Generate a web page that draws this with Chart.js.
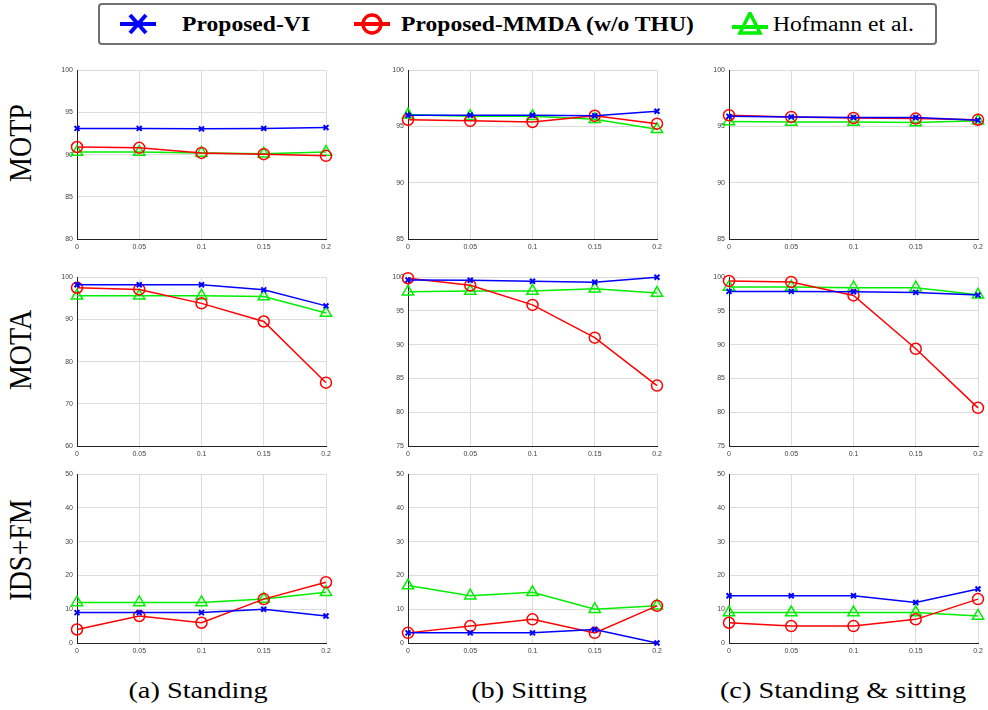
<!DOCTYPE html>
<html>
<head>
<meta charset="utf-8">
<script src="https://cdn.jsdelivr.net/npm/chart.js@4"></script>
<style>
  body { margin: 0; background: #fff; width: 988px; height: 710px; position: relative; overflow: hidden; }
  .cell { position: absolute; }
  .serif { font-family: "Liberation Serif", "Times New Roman", serif; color: #000; position: absolute; white-space: nowrap; }
  .legend { position: absolute; left: 98px; top: 3px; width: 835px; height: 38px; border: 2px solid #707070; border-radius: 4px; }
</style>
</head>
<body>
<div class="legend"></div>
<div id="overlay"></div>
<script>
// Tracking results vs. noise level (3 metrics x 3 scenarios)
const xLabels = ['0', '0.05', '0.1', '0.15', '0.2'];
const seriesNames = ['Proposed-VI', 'Proposed-MMDA (w/o THU)', 'Hofmann et al.'];
const rowLabels = ['MOTP', 'MOTA', 'IDS+FM'];
const colLabels = ['(a) Standing', '(b) Sitting', '(c) Standing & sitting'];

// MOTP
const motpStandingVI   = [93.1, 93.1, 93.05, 93.1, 93.2];
const motpStandingMMDA = [90.9, 90.8, 90.2, 90.05, 89.85];
const motpStandingHof  = [90.3, 90.3, 90.2, 90.1, 90.3];
const motpSittingVI    = [96.0, 96.0, 96.0, 95.95, 96.35];
const motpSittingMMDA  = [95.6, 95.5, 95.4, 95.95, 95.25];
const motpSittingHof   = [96.05, 95.9, 95.9, 95.65, 94.75];
const motpBothVI       = [95.9, 95.85, 95.8, 95.8, 95.55];
const motpBothMMDA     = [96.0, 95.85, 95.75, 95.7, 95.6];
const motpBothHof      = [95.45, 95.4, 95.4, 95.35, 95.5];

// MOTA
const motaStandingVI   = [98.2, 98.2, 98.2, 97.0, 93.2];
const motaStandingMMDA = [97.5, 97.1, 93.8, 89.5, 75.0];
const motaStandingHof  = [95.6, 95.6, 95.6, 95.4, 91.5];
const motaSittingVI    = [99.6, 99.55, 99.4, 99.25, 100];
const motaSittingMMDA  = [99.85, 98.8, 95.9, 91.05, 83.95];
const motaSittingHof   = [97.85, 97.95, 97.95, 98.3, 97.65];
const motaBothVI       = [97.9, 97.9, 97.85, 97.75, 97.35];
const motaBothMMDA     = [99.45, 99.3, 97.3, 89.4, 80.65];
const motaBothHof      = [98.55, 98.55, 98.45, 98.45, 97.4];

// IDS+FM
const idsStandingVI    = [9, 9, 9, 10, 8];
const idsStandingMMDA  = [4, 8, 6, 13, 18];
const idsStandingHof   = [12, 12, 12, 13, 15];
const idsSittingVI     = [3, 3, 3, 4, 0];
const idsSittingMMDA   = [3, 5, 7, 3, 11];
const idsSittingHof    = [17, 14, 15, 10, 11];
const idsBothVI        = [14, 14, 14, 12, 16];
const idsBothMMDA      = [6, 5, 5, 7, 13];
const idsBothHof       = [9, 9, 9, 9, 8];

// y-axis ranges [min, max, step]
const motpRanges = [[80, 100, 5], [85, 100, 5], [85, 100, 5]];
const motaRanges = [[60, 100, 10], [75, 100, 5], [75, 100, 5]];
const idsRanges  = [[0, 50, 10], [0, 50, 10], [0, 50, 10]];

const grid = [
    [[motpStandingVI, motpStandingMMDA, motpStandingHof], [motpSittingVI, motpSittingMMDA, motpSittingHof], [motpBothVI, motpBothMMDA, motpBothHof]],
    [[motaStandingVI, motaStandingMMDA, motaStandingHof], [motaSittingVI, motaSittingMMDA, motaSittingHof], [motaBothVI, motaBothMMDA, motaBothHof]],
    [[idsStandingVI, idsStandingMMDA, idsStandingHof], [idsSittingVI, idsSittingMMDA, idsSittingHof], [idsBothVI, idsBothMMDA, idsBothHof]]
];
const ranges = [motpRanges, motaRanges, idsRanges];

const colors = ['#0000ff', '#ff0000', '#00ee00'];
const styles = [
    { pointStyle: 'crossRot', pointRadius: 3.5, pointBorderWidth: 2 },
    { pointStyle: 'circle', pointRadius: 5.5, pointBorderWidth: 1.5 },
    { pointStyle: 'triangle', pointRadius: 6.5, pointBorderWidth: 1.5 }
];

// plot-area geometry
const colLeft = [77, 408, 729];
const rowTop = [70, 277, 474];
const PW = 249, PH = 169, YW = 30, XH = 16, PT = 8, PR = 9;

const tickFont = { family: 'Liberation Sans, Arial, sans-serif', size: 7 };

for (let r = 0; r < 3; r++) {
    for (let c = 0; c < 3; c++) {
        const div = document.createElement('div');
        div.className = 'cell';
        div.style.left = (colLeft[c] - YW) + 'px';
        div.style.top = (rowTop[r] - PT) + 'px';
        div.style.width = (YW + PW + PR) + 'px';
        div.style.height = (PT + PH + XH) + 'px';
        const cv = document.createElement('canvas');
        div.appendChild(cv);
        document.body.appendChild(div);

        const [ymin, ymax, ystep] = ranges[r][c];
        new Chart(cv, {
            type: 'line',
            data: {
                labels: xLabels,
                datasets: grid[r][c].map((vals, i) => ({
                    label: seriesNames[i],
                    data: vals,
                    borderColor: colors[i],
                    backgroundColor: 'rgba(0,0,0,0)',
                    pointBorderColor: colors[i],
                    pointBackgroundColor: 'rgba(0,0,0,0)',
                    borderWidth: 1.5,
                    tension: 0,
                    clip: false,
                    ...styles[i]
                }))
            },
            options: {
                responsive: true,
                maintainAspectRatio: false,
                animation: false,
                layout: { padding: { left: 0, right: PR, top: PT, bottom: 0 } },
                plugins: { legend: { display: false }, tooltip: { enabled: false } },
                scales: {
                    x: {
                        offset: false,
                        grid: { color: '#dcdcdc', drawTicks: false },
                        border: { color: '#222', width: 1 },
                        ticks: { font: tickFont, color: '#444', padding: 4, maxRotation: 0, autoSkip: false },
                        afterFit: s => { s.height = XH; }
                    },
                    y: {
                        min: ymin, max: ymax,
                        grid: { color: '#dcdcdc', drawTicks: false },
                        border: { color: '#222', width: 1 },
                        ticks: { stepSize: ystep, font: tickFont, color: '#444', padding: 4 },
                        afterFit: s => { s.width = YW; }
                    }
                }
            }
        });
    }
}

// row labels (rotated) and column captions
const overlay = document.getElementById('overlay');
const rowCenters = [143, 350, 550];
rowLabels.forEach((t, i) => {
    const d = document.createElement('div');
    d.className = 'serif';
    d.textContent = t;
    d.style.fontSize = '28px';
    d.style.left = '21px';
    d.style.top = rowCenters[i] + 'px';
    d.style.transform = 'translate(-50%, -50%) rotate(-90deg) scale(1, 1.15)';
    overlay.appendChild(d);
});
const capCenters = [198, 529, 843];
colLabels.forEach((t, i) => {
    const d = document.createElement('div');
    d.className = 'serif';
    d.textContent = t;
    d.style.fontSize = '24px';
    d.style.left = capCenters[i] + 'px';
    d.style.top = '690px';
    d.style.transform = 'translate(-50%, -50%) scale(1.18, 1)';
    overlay.appendChild(d);
});

// legend
const legendIcons = [
    '<line x1="2" y1="12" x2="38" y2="12" stroke="#0000ff" stroke-width="4"/><path d="M12 3 L28 21 M28 3 L12 21" stroke="#0000ff" stroke-width="4"/>',
    '<line x1="2" y1="12" x2="38" y2="12" stroke="#ff0000" stroke-width="4"/><circle cx="20" cy="12" r="9" fill="none" stroke="#ff0000" stroke-width="3.5"/>',
    '<line x1="2" y1="15" x2="38" y2="15" stroke="#00ee00" stroke-width="4"/><path d="M20 1 L30 21 L10 21 Z" fill="none" stroke="#00ee00" stroke-width="3.5"/>'
];
const iconLeft = [118, 352, 730];
const textLeft = [182, 401, 773];
const bold = [true, true, false];
seriesNames.forEach((name, i) => {
    const ic = document.createElement('div');
    ic.style.position = 'absolute';
    ic.style.left = iconLeft[i] + 'px';
    ic.style.top = '12px';
    ic.innerHTML = '<svg width="40" height="24" viewBox="0 0 40 24">' + legendIcons[i] + '</svg>';
    overlay.appendChild(ic);
    const tx = document.createElement('div');
    tx.className = 'serif';
    tx.textContent = name;
    tx.style.fontSize = '20px';
    tx.style.fontWeight = bold[i] ? 'bold' : 'normal';
    tx.style.left = textLeft[i] + 'px';
    tx.style.top = '24px';
    tx.style.transformOrigin = 'left center';
    tx.style.transform = 'translate(0, -50%) scale(1.18, 1)';
    overlay.appendChild(tx);
});
</script>
</body>
</html>
